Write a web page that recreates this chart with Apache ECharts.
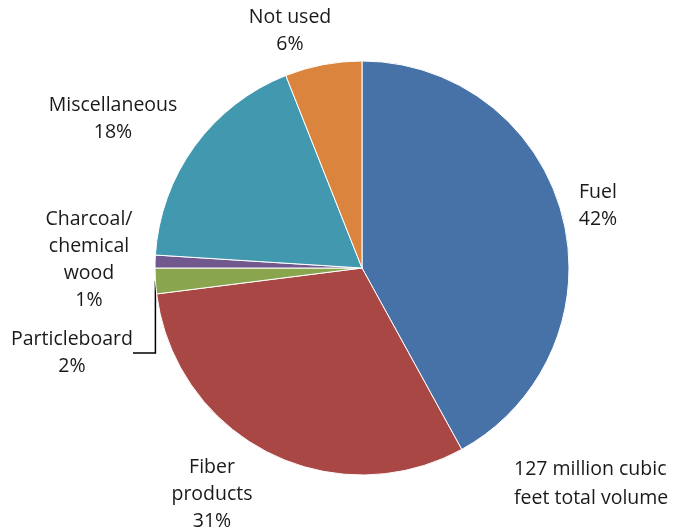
<!DOCTYPE html>
<html>
<head>
<meta charset="utf-8">
<script src="https://cdn.jsdelivr.net/npm/echarts@6/dist/echarts.min.js"></script>
<style>
  html, body { margin: 0; padding: 0; background: #fff; }
  #chart { width: 680px; height: 531px; }
</style>
</head>
<body>
<div id="chart"></div>
<script>
// Uses of harvested wood residue, share of total volume (%)
const categories = ['Fuel', 'Fiber\nproducts', 'Particleboard', 'Charcoal/\nchemical\nwood', 'Miscellaneous', 'Not used'];
const shares = [42, 31, 2, 1, 18, 6];
const colors = ['#4672A7', '#A94744', '#89A54E', '#71588F', '#4198AF', '#DB843D'];
const totalNote = '127 million cubic\nfeet total volume';

// label block centres (x, y) around the pie
const labelSpots = [[598, 206], [212, 494], [72, 353], [89, 260], [113, 119], [290, 31]];

const FONT = 'Open Sans';
const TEXT = '#1a1a1a';
const chart = echarts.init(document.getElementById('chart'));

chart.setOption({
  animation: false,
  backgroundColor: '#fff',
  graphic: [{
    type: 'text',
    left: 514, top: 455,
    style: {
      text: totalNote, fill: TEXT, font: '19.5px "' + FONT + '"',
      lineHeight: 29
    }
  }],
  series: [{
    type: 'pie',
    center: [362, 268],
    radius: 207,
    startAngle: 90,
    clockwise: true,
    silent: true,
    itemStyle: { borderColor: '#fff', borderWidth: 1 },
    label: {
      show: true,
      color: TEXT,
      fontFamily: FONT,
      fontSize: 19.5,
      lineHeight: 27,
      align: 'center',
      overflow: 'none',
      formatter: p => p.name + '\n' + p.value + '%'
    },
    labelLine: { show: false },
    labelLayout: p => ({
      x: labelSpots[p.dataIndex][0],
      y: labelSpots[p.dataIndex][1],
      align: 'center',
      verticalAlign: 'middle'
    }),
    data: categories.map((c, i) => ({
      name: c,
      value: shares[i],
      itemStyle: { color: colors[i] },
      labelLine: i === 2 ? { show: true, lineStyle: { color: '#000', width: 1.5 } } : undefined
    }))
  }]
});
</script>
</body>
</html>
